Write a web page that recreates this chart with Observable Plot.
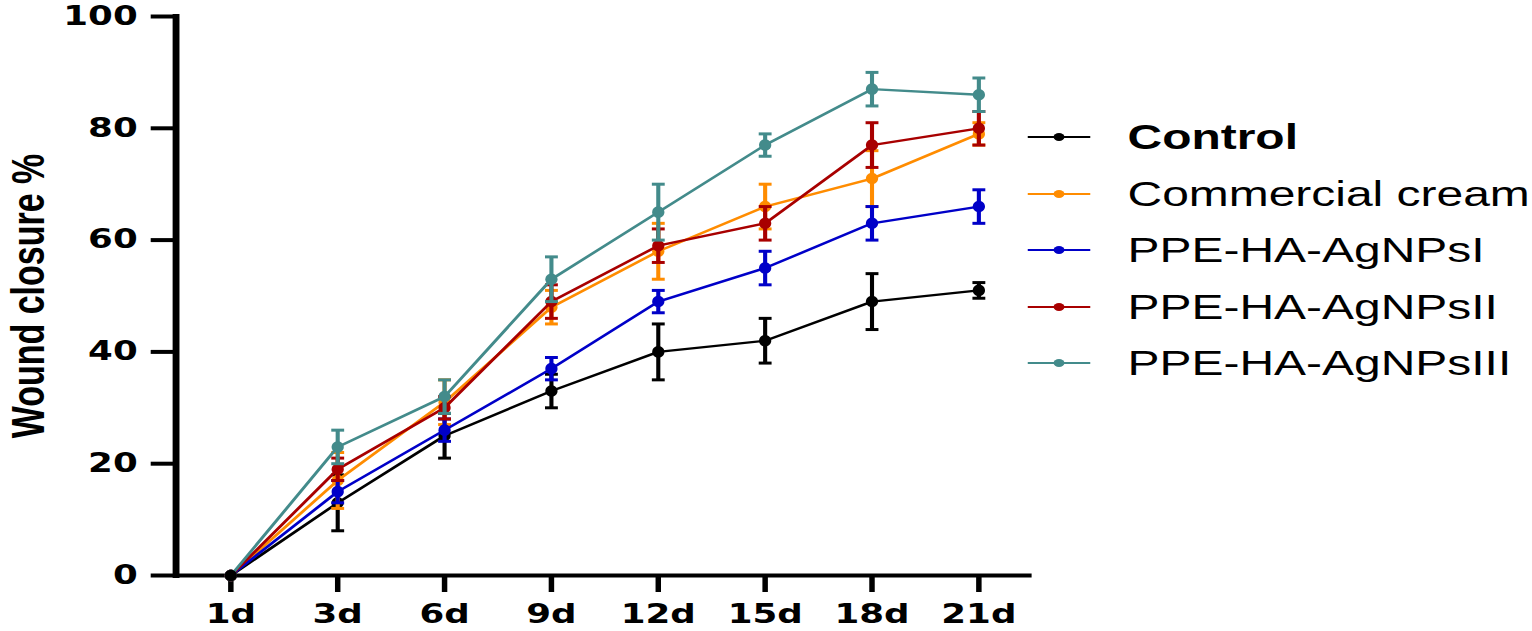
<!DOCTYPE html>
<html><head><meta charset="utf-8">
<script src="https://cdn.jsdelivr.net/npm/d3@7"></script>
<script src="https://cdn.jsdelivr.net/npm/@observablehq/plot@0.6"></script>
<style>
body{margin:0;background:#fff;}
#wrap{position:relative;width:1118px;height:631px;transform:scaleX(1.37);transform-origin:0 0;}
#legend{position:absolute;left:750px;top:108.75px;font-family:"Liberation Sans",Arial,sans-serif;font-size:35px;color:#000;}
.row{display:flex;align-items:center;height:56.5px;white-space:nowrap;}
.row svg{margin-right:27px;flex:none;}
</style></head><body>
<div id="wrap"><div id="chart"></div><div id="legend"></div></div>
<script>
const days = ["1d","3d","6d","9d","12d","15d","18d","21d"];
const yTicks = [0,20,40,60,80,100];
const yLabel = "Wound closure %";
const seriesNames = ["Control","Commercial cream","PPE-HA-AgNPsI","PPE-HA-AgNPsII","PPE-HA-AgNPsIII"];
const seriesColors = ["#000000","#FF8C00","#0000C8","#A80000","#438B8B"];
const controlMean    = [0,13,25,33,40,42,49,51];
const controlErr     = [0,5,4,3,5,4,5,1.4];
const commercialMean = [0,17,31,48,58,66,71,79];
const commercialErr  = [0,5,4,3,5,4,5,2];
const ppe1Mean = [0,15,26,37,49,55,63,66];
const ppe1Err  = [0,2,2,2,2,3,3,3];
const ppe2Mean = [0,19,30,49,59,63,77,80];
const ppe2Err  = [0,2,2,3,3,3,4,3];
const ppe3Mean = [0,23,32,53,65,77,87,86];
const ppe3Err  = [0,3,3,4,5,2,3,3];

const means = [controlMean, commercialMean, ppe1Mean, ppe2Mean, ppe3Mean];
const errs = [controlErr, commercialErr, ppe1Err, ppe2Err, ppe3Err];

const capSymbol = {draw(ctx, size){ const r = Math.sqrt(size/Math.PI); ctx.moveTo(-r,0); ctx.lineTo(r,0); }};
const ovalSymbol = {draw(ctx, size){
  const ry = Math.sqrt(size/Math.PI), rx = ry/1.3, k = 0.5523, kx = k*rx, ky = k*ry;
  ctx.moveTo(rx,0);
  ctx.bezierCurveTo(rx,ky,kx,ry,0,ry);
  ctx.bezierCurveTo(-kx,ry,-rx,ky,-rx,0);
  ctx.bezierCurveTo(-rx,-ky,-kx,-ry,0,-ry);
  ctx.bezierCurveTo(kx,-ry,rx,-ky,rx,0);
  ctx.closePath();
}};

const seriesMarks = [];
seriesNames.forEach((name, i) => {
  const data = days.map((d, j) => ({day: d, value: means[i][j], err: errs[i][j]}));
  const withErr = data.filter(d => d.err > 0);
  const c = seriesColors[i];
  seriesMarks.push(
    Plot.ruleX(withErr, {x: "day", y1: d => d.value - d.err, y2: d => d.value + d.err, stroke: c, strokeWidth: 3}),
    Plot.dot(withErr, {x: "day", y: d => d.value + d.err, symbol: capSymbol, r: 4.7, stroke: c, fill: "none", strokeWidth: 3}),
    Plot.dot(withErr, {x: "day", y: d => d.value - d.err, symbol: capSymbol, r: 4.7, stroke: c, fill: "none", strokeWidth: 3}),
    Plot.line(data, {x: "day", y: "value", stroke: c, strokeWidth: 2.4}),
    Plot.dot(data, {x: "day", y: "value", symbol: ovalSymbol, r: 5.8, fill: c, stroke: "none"})
  );
});
// control starting point sits on top in the reference
seriesMarks.push(Plot.dot([{day: days[0], value: controlMean[0]}], {x: "day", y: "value", symbol: ovalSymbol, r: 5.8, fill: seriesColors[0]}));

const tickFont = {fontSize: 26, fontWeight: "bold", fontFamily: "DejaVu Sans"};
const chart = Plot.plot({
  width: 1118, height: 631,
  marginLeft: 128, marginRight: 365, marginTop: 16, marginBottom: 56,
  style: {background: "#fff", color: "#000"},
  x: {type: "point", domain: days, padding: 0.5},
  y: {domain: [0, 100]},
  marks: [
    Plot.axisY({ticks: yTicks, tickSize: 18, tickPadding: 10, strokeWidth: 4, label: null, ...tickFont}),
    Plot.axisX({tickSize: 17, tickPadding: 12, strokeWidth: 4, label: null, ...tickFont}),
    Plot.frame({anchor: "left", strokeWidth: 5}),
    Plot.ruleY([0], {strokeWidth: 4}),
    Plot.text([yLabel], {text: d => d, frameAnchor: "left", textAnchor: "middle", lineAnchor: "middle", rotate: -90, dx: -107, fontSize: 34, fontWeight: "bold", fontFamily: "Liberation Sans", fill: "#000"}),
    ...seriesMarks
  ]
});
document.getElementById("chart").appendChild(chart);

const legend = d3.select("#legend");
seriesNames.forEach((name, i) => {
  const row = legend.append("div").attr("class", "row");
  const svg = row.append("svg").attr("width", 46).attr("height", 20);
  svg.append("line").attr("x1", 0).attr("x2", 46).attr("y1", 10).attr("y2", 10).attr("stroke", seriesColors[i]).attr("stroke-width", 2.2);
  svg.append("circle").attr("cx", 23).attr("cy", 10).attr("r", 4).attr("fill", seriesColors[i]);
  row.append("span").text(name).style("font-weight", i === 0 ? "bold" : "normal");
});
</script>
</body></html>
